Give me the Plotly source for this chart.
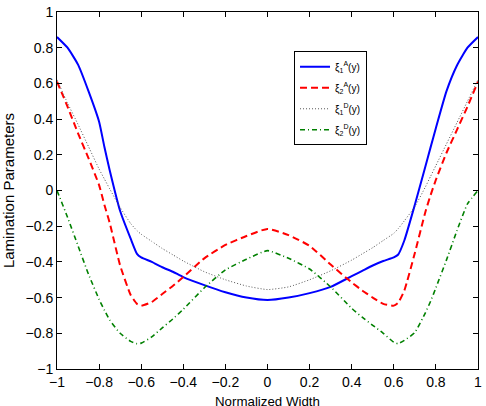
import plotly.graph_objects as go

# Normalized width positions
x_vals = [-1, -0.95, -0.9, -0.85, -0.8, -0.775, -0.75, -0.7, -0.65, -0.62, -0.6, -0.55, -0.5, -0.45, -0.4,
          -0.3, -0.2, -0.1, 0, 0.1, 0.2, 0.3, 0.4, 0.45, 0.5, 0.55, 0.6, 0.62, 0.65, 0.7, 0.75, 0.775,
          0.8, 0.85, 0.9, 0.95, 1]

xi1A = [0.86, 0.80, 0.705, 0.555, 0.385, 0.245, 0.115, -0.115, -0.27, -0.355, -0.375, -0.40, -0.43, -0.455, -0.485,
        -0.53, -0.57, -0.60, -0.614, -0.60, -0.575, -0.54, -0.48, -0.45, -0.42, -0.395, -0.375, -0.36,
        -0.28, -0.08, 0.135, 0.243, 0.35, 0.555, 0.70, 0.80, 0.86]

xi2A = [0.61, 0.47, 0.32, 0.18, 0.03, -0.08, -0.18, -0.42, -0.585, -0.635, -0.645, -0.625, -0.58, -0.535, -0.485,
        -0.38, -0.305, -0.255, -0.215, -0.25, -0.31, -0.415, -0.515, -0.56, -0.60, -0.635, -0.645, -0.63,
        -0.56, -0.35, -0.12, -0.025, 0.06, 0.21, 0.34, 0.47, 0.61]

xi1D = [0.62, 0.49, 0.37, 0.245, 0.12, 0.065, 0.01, -0.095, -0.185, -0.225, -0.245, -0.285, -0.325, -0.36, -0.395,
        -0.455, -0.50, -0.535, -0.555, -0.54, -0.50, -0.45, -0.39, -0.355, -0.32, -0.28, -0.24, -0.215,
        -0.17, -0.09, 0.02, 0.08, 0.14, 0.26, 0.38, 0.50, 0.62]

xi2D = [0.0, -0.15, -0.31, -0.47, -0.61, -0.67, -0.725, -0.80, -0.845, -0.858, -0.855, -0.82, -0.77, -0.72, -0.665,
        -0.545, -0.445, -0.385, -0.337, -0.38, -0.44, -0.54, -0.66, -0.71, -0.755, -0.80, -0.85, -0.858,
        -0.84, -0.795, -0.685, -0.62, -0.545, -0.39, -0.225, -0.075, 0.0]

series_names = ["ξ<sub>1</sub><sup>A</sup>(y)", "ξ<sub>2</sub><sup>A</sup>(y)",
                "ξ<sub>1</sub><sup>D</sup>(y)", "ξ<sub>2</sub><sup>D</sup>(y)"]

tick_vals = [-1, -0.8, -0.6, -0.4, -0.2, 0, 0.2, 0.4, 0.6, 0.8, 1]
tick_text = ["−1", "−0.8", "−0.6", "−0.4", "−0.2", "0", "0.2", "0.4", "0.6", "0.8", "1"]

styles = [
    dict(color="#0000ff", width=2, dash="solid", shape="spline", smoothing=0.5),
    dict(color="#ff0000", width=2, dash="7px,4px", shape="spline", smoothing=0.5),
    dict(color="#555555", width=1, dash="1px,2px", shape="spline", smoothing=0.5),
    dict(color="#008000", width=1.6, dash="5px,3px,1px,3px", shape="spline", smoothing=0.5),
]

fig = go.Figure()
for name, ys, st, grp in zip(series_names, [xi1A, xi2A, xi1D, xi2D], styles, ["a", "b", "c", "d"]):
    fig.add_trace(go.Scatter(x=x_vals, y=ys, mode="lines", name=name, line=st, legendgroup=grp))

font_family = "Liberation Sans, Arial, sans-serif"
axis_common = dict(
    showline=True, linecolor="black", linewidth=1, mirror="ticks",
    ticks="inside", ticklen=5, tickcolor="black", tickwidth=1,
    showgrid=False, zeroline=False,
    tickvals=tick_vals, ticktext=tick_text,
    tickfont=dict(family=font_family, size=14, color="black"),
)

fig.update_layout(
    width=486, height=406,
    margin=dict(l=57, r=4, t=10, b=37),
    paper_bgcolor="white", plot_bgcolor="white",
    font=dict(family=font_family, color="black"),
    xaxis=dict(range=[-1, 1], **axis_common),
    yaxis=dict(range=[-1, 1], **axis_common),
    showlegend=True,
    legend=dict(x=0.563, y=0.89, xanchor="left", yanchor="top",
                bgcolor="white", bordercolor="black", borderwidth=1,
                font=dict(size=10, family=font_family), tracegroupgap=2,
                itemwidth=30),
    annotations=[
        dict(text="Lamination Parameters", xref="paper", yref="paper",
             x=-0.115, y=0.5, xanchor="center", yanchor="middle", textangle=-90,
             showarrow=False, font=dict(size=15, family=font_family)),
        dict(text="Normalized Width", xref="paper", yref="paper",
             x=0.5, y=-0.064, xanchor="center", yanchor="top",
             showarrow=False, font=dict(size=13.3, family=font_family)),
    ],
)

fig.write_html("out.html")
